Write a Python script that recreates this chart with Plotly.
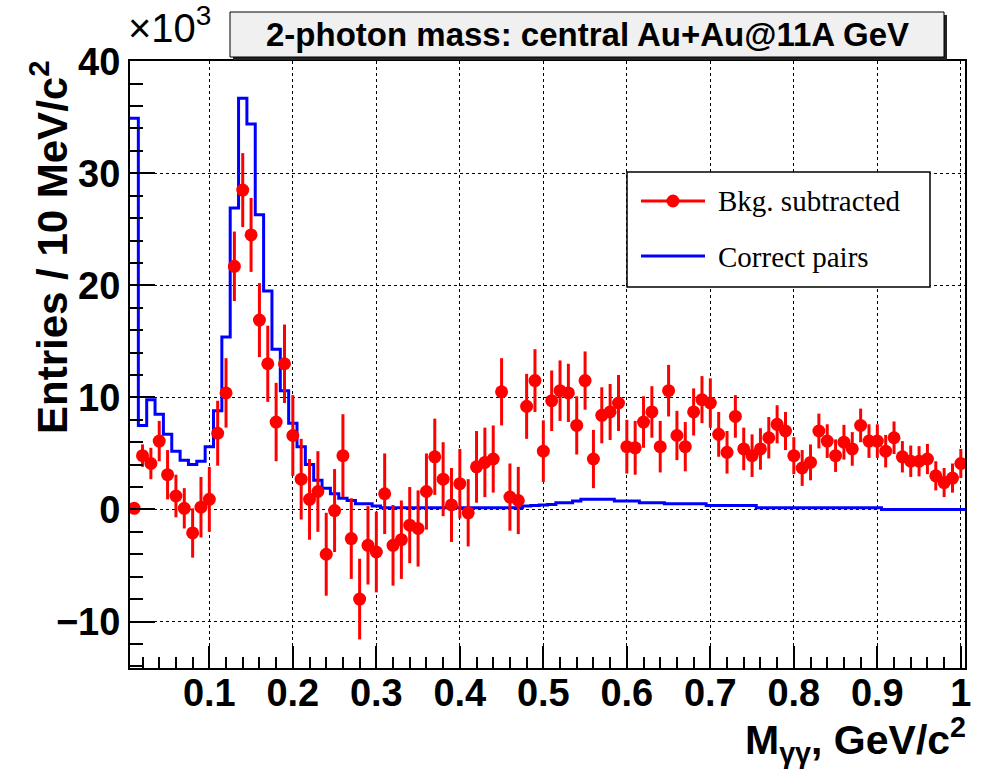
import plotly.graph_objects as go
import numpy as np

# bin centres (GeV/c^2), 10 MeV bins
mass = [0.01, 0.02, 0.03, 0.04, 0.05, 0.06, 0.07, 0.08, 0.09, 0.10,
        0.11, 0.12, 0.13, 0.14, 0.15, 0.16, 0.17, 0.18, 0.19, 0.20,
        0.21, 0.22, 0.23, 0.24, 0.25, 0.26, 0.27, 0.28, 0.29, 0.30,
        0.31, 0.32, 0.33, 0.34, 0.35, 0.36, 0.37, 0.38, 0.39, 0.40,
        0.41, 0.42, 0.43, 0.44, 0.45, 0.46, 0.47, 0.48, 0.49, 0.50,
        0.51, 0.52, 0.53, 0.54, 0.55, 0.56, 0.57, 0.58, 0.59, 0.60,
        0.61, 0.62, 0.63, 0.64, 0.65, 0.66, 0.67, 0.68, 0.69, 0.70,
        0.71, 0.72, 0.73, 0.74, 0.75, 0.76, 0.77, 0.78, 0.79, 0.80,
        0.81, 0.82, 0.83, 0.84, 0.85, 0.86, 0.87, 0.88, 0.89, 0.90,
        0.91, 0.92, 0.93, 0.94, 0.95, 0.96, 0.97, 0.98, 0.99, 1.00]

# Background-subtracted entries (x10^3)
bkg_sub = [0.1, 4.8, 4.1, 6.1, 3.1, 1.2, 0.1, -2.1, 0.2, 0.9,
           6.8, 10.4, 21.7, 28.5, 24.5, 16.9, 13.0, 7.8, 13.0, 6.6,
           2.7, 0.9, 1.6, -4.0, -0.1, 4.8, -2.6, -8.0, -3.2, -3.8,
           1.4, -3.2, -2.7, -1.4, -1.7, 1.6, 4.7, 2.7, 0.4, 2.3,
           -0.3, 3.8, 4.2, 4.5, 10.5, 1.1, 0.8, 9.2, 11.5, 5.2,
           9.7, 10.6, 10.4, 7.5, 11.5, 4.5, 8.4, 8.7, 9.5, 5.6,
           5.5, 7.8, 8.7, 5.6, 10.6, 6.6, 5.6, 8.7, 9.8, 9.5,
           6.7, 5.1, 8.3, 5.4, 4.8, 5.4, 6.4, 7.6, 7.0, 4.8,
           3.7, 4.2, 7.0, 6.1, 4.8, 6.0, 5.4, 7.5, 6.1, 6.1,
           5.2, 6.4, 4.7, 4.3, 4.3, 4.5, 3.0, 2.4, 2.8, 4.1]

bkg_err = [0.5, 1.0, 1.4, 1.8, 2.2, 1.9, 1.8, 2.2, 2.7, 2.9,
           2.9, 3.1, 3.1, 3.3, 3.3, 3.3, 3.4, 3.5, 3.5, 3.6,
           3.6, 3.6, 3.6, 3.7, 3.7, 3.7, 3.6, 3.6, 3.5, 3.6,
           3.6, 3.6, 3.5, 3.4, 3.4, 3.4, 3.4, 3.3, 3.3, 3.1,
           3.0, 3.2, 3.1, 3.0, 3.0, 3.0, 3.0, 2.9, 2.8, 2.75,
           2.7, 2.7, 2.6, 2.6, 2.6, 2.6, 2.5, 2.5, 2.5, 2.4,
           2.4, 2.3, 2.3, 2.3, 2.3, 2.2, 2.2, 2.1, 2.1, 2.2,
           2.0, 1.9, 1.9, 1.9, 1.9, 1.85, 1.85, 1.7, 1.7, 1.65,
           1.6, 1.6, 1.55, 1.5, 1.45, 1.55, 1.5, 1.5, 1.5, 1.5,
           1.45, 1.45, 1.4, 1.4, 1.35, 1.35, 1.3, 1.3, 1.3, 1.3]

# Correct pairs histogram (x10^3)
correct = [34.9, 7.5, 9.8, 8.5, 6.7, 5.2, 4.4, 4.0, 4.3, 5.6,
           8.8, 15.4, 26.9, 36.7, 34.4, 26.3, 19.5, 14.3, 10.6, 7.7,
           5.6, 4.0, 2.6, 1.9, 1.4, 1.0, 0.8, 0.5, 0.5, 0.3,
           0.15, 0.15, 0.15, 0.15, 0.15, 0.15, 0.15, 0.15, 0.15, 0.15,
           0.15, 0.15, 0.15, 0.15, 0.15, 0.15, 0.15, 0.3, 0.35, 0.4,
           0.45, 0.6, 0.6, 0.75, 0.9, 0.9, 0.9, 0.9, 0.75, 0.75,
           0.75, 0.6, 0.6, 0.6, 0.5, 0.5, 0.5, 0.5, 0.5, 0.36,
           0.36, 0.36, 0.36, 0.36, 0.36, 0.15, 0.15, 0.15, 0.15, 0.15,
           0.15, 0.15, 0.15, 0.15, 0.15, 0.15, 0.15, 0.15, 0.15, 0.15,
           0.0, 0.0, 0.0, 0.0, 0.0, 0.0, 0.0, 0.0, 0.0, 0.0]

title_text = "2-photon mass: central Au+Au@11A GeV"
legend_labels = ["Bkg. subtracted", "Correct pairs"]

RED = "#ff0000"
BLUE = "#0000ff"
SANS = "Liberation Sans"
SERIF = "Liberation Serif"

# plot-area geometry (pixels)
W, H = 982, 771
L, R, T, B = 130, 17, 61, 103
PW = W - L - R
PH = H - T - B


def px(x):
    return (x - L) / PW


def py(y):
    return (H - B - y) / PH


# histogram step edges from bin centres
centers = np.array(mass)
edges = np.append(centers - 0.005, centers[-1] + 0.005)
steps = list(correct) + [correct[-1]]

fig = go.Figure()
fig.add_trace(go.Scatter(
    x=edges, y=steps, mode="lines", line=dict(color=BLUE, width=3, shape="hv"),
    name=legend_labels[1], hoverinfo="skip"))
fig.add_trace(go.Scatter(
    x=mass, y=bkg_sub, mode="markers",
    marker=dict(color=RED, size=13, symbol="circle"),
    error_y=dict(type="data", array=bkg_err, color=RED, thickness=3, width=0),
    name=legend_labels[0]))

axis_common = dict(
    showline=True, linecolor="black", linewidth=2, mirror=True,
    ticks="inside", tickcolor="black", tickwidth=1.5,
    showgrid=True, gridcolor="black", gridwidth=1, griddash="dot",
    zeroline=False,
    tickfont=dict(family=SANS, size=38, color="black", weight="bold"),
)

fig.update_xaxes(range=[0.005, 1.005], tick0=0, dtick=0.1, ticklen=22,
                 ticklabelstandoff=-10,
                 minor=dict(dtick=0.02, ticks="inside", ticklen=11,
                            tickcolor="black", tickwidth=1.5, showgrid=False),
                 **axis_common)
fig.update_yaxes(range=[-14.15, 40.02], tick0=0, dtick=10, ticklen=25,
                 minor=dict(dtick=2, ticks="inside", ticklen=13,
                            tickcolor="black", tickwidth=1.5, showgrid=False),
                 **axis_common)

shapes = []
# title box with shadow
shapes.append(dict(type="rect", xref="paper", yref="paper",
                   x0=px(233), x1=px(947), y0=py(60), y1=py(15),
                   fillcolor="#222222", line=dict(width=0), layer="above"))
shapes.append(dict(type="rect", xref="paper", yref="paper",
                   x0=px(230), x1=px(944), y0=py(57), y1=py(12),
                   fillcolor="#f0f0f0", line=dict(color="black", width=1), layer="above"))
# legend box
shapes.append(dict(type="rect", xref="paper", yref="paper",
                   x0=px(627), x1=px(930), y0=py(287), y1=py(172),
                   fillcolor="white", line=dict(color="black", width=1.5), layer="above"))
shapes.append(dict(type="line", xref="paper", yref="paper",
                   x0=px(641), x1=px(705), y0=py(201), y1=py(201),
                   line=dict(color=RED, width=3), layer="above"))
shapes.append(dict(type="circle", xref="paper", yref="paper",
                   x0=px(666.5), x1=px(679.5), y0=py(207.5), y1=py(194.5),
                   fillcolor=RED, line=dict(color=RED, width=0), layer="above"))
shapes.append(dict(type="line", xref="paper", yref="paper",
                   x0=px(641), x1=px(705), y0=py(256), y1=py(256),
                   line=dict(color=BLUE, width=3), layer="above"))

annotations = []
annotations.append(dict(text="<b>" + title_text + "</b>", xref="paper", yref="paper",
                        x=px(587), y=py(34), xanchor="center", yanchor="middle",
                        showarrow=False, font=dict(family=SANS, size=33, color="black")))
annotations.append(dict(text=legend_labels[0], xref="paper", yref="paper",
                        x=px(716), y=py(201), xanchor="left", yanchor="middle",
                        showarrow=False, font=dict(family=SERIF, size=29, color="black")))
annotations.append(dict(text=legend_labels[1], xref="paper", yref="paper",
                        x=px(716), y=py(257), xanchor="left", yanchor="middle",
                        showarrow=False, font=dict(family=SERIF, size=29, color="black")))
annotations.append(dict(text="×10<sup>3</sup>", xref="paper", yref="paper",
                        x=px(126), y=py(52), xanchor="left", yanchor="bottom",
                        showarrow=False, font=dict(family=SANS, size=40, color="black")))
annotations.append(dict(text="<b>Entries / 10 MeV/c<sup>2</sup></b>", xref="paper", yref="paper",
                        x=px(49), y=py(58), xanchor="center", yanchor="top", textangle=-90,
                        showarrow=False, font=dict(family=SANS, size=42, color="black")))
annotations.append(dict(text="<b>M<sub>γγ</sub>, GeV/c<sup>2</sup></b>", xref="paper", yref="paper",
                        x=px(968), y=py(771), xanchor="right", yanchor="bottom",
                        showarrow=False, font=dict(family=SANS, size=41, color="black")))

fig.update_layout(
    width=W, height=H,
    margin=dict(l=L, r=R, t=T, b=B),
    plot_bgcolor="white", paper_bgcolor="white",
    showlegend=False,
    shapes=shapes, annotations=annotations,
)

fig.write_html("out.html")
